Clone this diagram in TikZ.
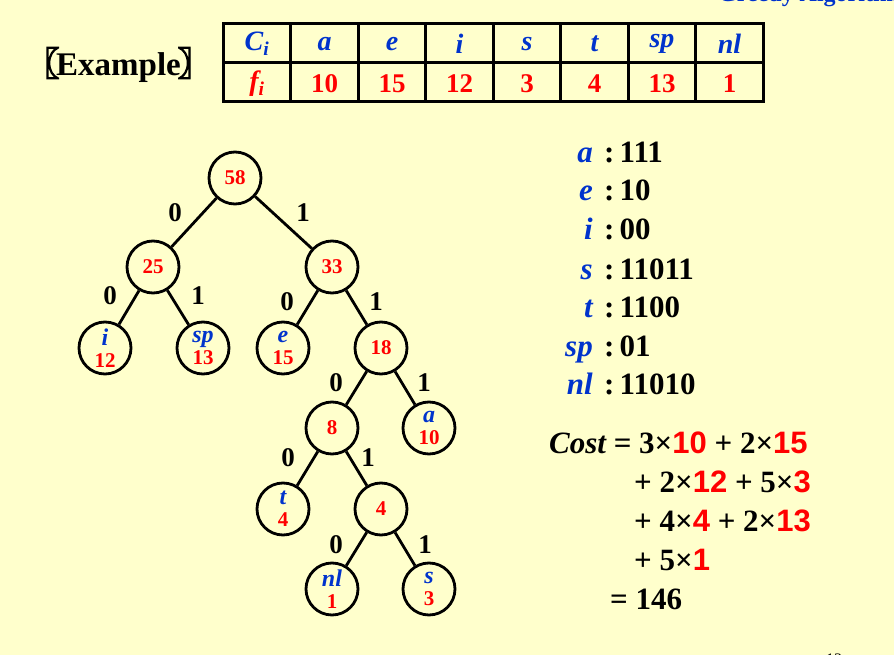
\documentclass[tikz,border=0pt]{standalone}
\usepackage{fontspec}
\setmainfont{Liberation Serif}
\newfontfamily\cjk{Noto Sans CJK SC}[FakeBold=4]
\newfontfamily\arialf{Liberation Sans}
\definecolor{bg}{HTML}{FFFFCC}
\definecolor{cblue}{HTML}{0033CC}
\definecolor{cred}{HTML}{FF0000}
\newcommand{\rd}[1]{{\color{cred}\arialf\bfseries #1}}
\newcommand{\lf}[2]{{\fontsize{24}{24}\selectfont\color{cblue}\itshape #1}\\[1pt]{\color{cred}#2}}
\begin{document}
\begin{tikzpicture}[x=1pt,y=-1pt,
  tn/.style={circle, draw, line width=2.8pt, minimum size=52pt, inner sep=0pt, align=center,
    font=\fontsize{21}{21}\selectfont\bfseries},
  el/.style={font=\fontsize{27}{27}\selectfont\bfseries, inner sep=0pt},
  edge/.style={line width=2.8pt},
  hd/.style={font=\fontsize{28}{28}\selectfont\bfseries\itshape, text=cblue, inner sep=0pt},
  fv/.style={font=\fontsize{27}{27}\selectfont\bfseries, text=cred, inner sep=0pt},
  cl/.style={font=\fontsize{31}{31}\selectfont\bfseries\itshape, text=cblue, inner sep=0pt, anchor=base east},
  cc/.style={font=\fontsize{31}{31}\selectfont\bfseries, inner sep=0pt, anchor=base west},
  cost/.style={font=\fontsize{31}{31}\selectfont\bfseries, inner sep=0pt, anchor=base west}
]
\useasboundingbox (0,0) rectangle (894,655);
\fill[bg] (0,0) rectangle (894,655);

% header cut-off title and page number
\node[anchor=base west, inner sep=0pt, text=cblue, font=\fontsize{24}{24}\selectfont\bfseries] (title) at (718,1.5) {Greedy Algorithm};
\node[anchor=base west, inner sep=0pt, font=\fontsize{16}{16}\selectfont] (pnum) at (826,664) {13};

% Example label
\node[anchor=west, inner sep=0pt, font=\fontsize{33}{33}\selectfont\bfseries] (ex) at (26,65) {{\cjk 〖}\kern-3ptExample\kern-3pt{\cjk 〗}};

% table
\draw[line width=3pt] (223,24) rectangle (763,102);
\draw[line width=3pt] (223,63) -- (763,63);
\foreach \k in {1,...,7} \draw[line width=3pt] (223+67.5*\k,24) -- (223+67.5*\k,102);
\node[hd] (h0) at (257,44) {C\textsubscript{\itshape i}};
\node[hd] (h1) at (324.5,44) {a};
\node[hd] (h2) at (392,44) {e};
\node[hd] (h3) at (459.5,44) {i};
\node[hd] (h4) at (527,44) {s};
\node[hd] (h5) at (594.5,44) {t};
\node[hd] (h6) at (662,44) {sp};
\node[hd] (h7) at (729.5,44) {nl};
\node[fv, font=\fontsize{28}{28}\selectfont\bfseries\itshape] (f0) at (257,84) {f\textsubscript{\itshape i}};
\node[fv] (f1) at (324.5,84) {10};
\node[fv] (f2) at (392,84) {15};
\node[fv] (f3) at (459.5,84) {12};
\node[fv] (f4) at (527,84) {3};
\node[fv] (f5) at (594.5,84) {4};
\node[fv] (f6) at (662,84) {13};
\node[fv] (f7) at (729.5,84) {1};

% tree
\node[tn, text=cred] (n58) at (235,178) {58};
\node[tn, text=cred] (n25) at (153,267) {25};
\node[tn, text=cred] (n33) at (332,267) {33};
\node[tn] (ni) at (105,348) {\lf{i}{12}};
\node[tn] (nsp) at (203,348) {\lf{sp}{13}};
\node[tn] (ne) at (283,348) {\lf{e}{15}};
\node[tn, text=cred] (n18) at (381,348) {18};
\node[tn, text=cred] (n8) at (332,428) {8};
\node[tn] (na) at (429,428) {\lf{a}{10}};
\node[tn] (nt) at (283,509) {\lf{t}{4}};
\node[tn, text=cred] (n4) at (381,509) {4};
\node[tn] (nnl) at (332,589) {\lf{nl}{1}};
\node[tn] (ns) at (429,589) {\lf{s}{3}};

\draw[edge] (n58) -- (n25);
\draw[edge] (n58) -- (n33);
\draw[edge] (n25) -- (ni);
\draw[edge] (n25) -- (nsp);
\draw[edge] (n33) -- (ne);
\draw[edge] (n33) -- (n18);
\draw[edge] (n18) -- (n8);
\draw[edge] (n18) -- (na);
\draw[edge] (n8) -- (nt);
\draw[edge] (n8) -- (n4);
\draw[edge] (n4) -- (nnl);
\draw[edge] (n4) -- (ns);

\node[el] (l1) at (175,213) {0};
\node[el] (l2) at (303,213) {1};
\node[el] (l3) at (110,296) {0};
\node[el] (l4) at (198,296) {1};
\node[el] (l5) at (287,302) {0};
\node[el] (l6) at (376,302) {1};
\node[el] (l7) at (336,383) {0};
\node[el] (l8) at (424,383) {1};
\node[el] (l9) at (288,458) {0};
\node[el] (l10) at (368,458) {1};
\node[el] (l11) at (336,545) {0};
\node[el] (l12) at (425,545) {1};

% codes
\foreach \lt/\cd/\yy/\nm in {a/111/163/a, e/10/201/e, i/00/240/i, s/11011/279/s, t/1100/317/t, sp/01/356/sp, nl/11010/394/nl}{
  \node[cl] (cl\nm) at (593,\yy) {\lt};
  \node[cc] (cc\nm) at (604,\yy) {:\,\cd};
}

% cost
\node[cost] (c1) at (549,453) {{\itshape Cost} = 3×\rd{10} + 2×\rd{15}};
\node[cost] (c2) at (634,492) {+ 2×\rd{12} + 5×\rd{3}};
\node[cost] (c3) at (634,531) {+ 4×\rd{4} + 2×\rd{13}};
\node[cost] (c4) at (634,570) {+ 5×\rd{1}};
\node[cost] (c5) at (610,609) {= 146};
\end{tikzpicture}
\end{document}
